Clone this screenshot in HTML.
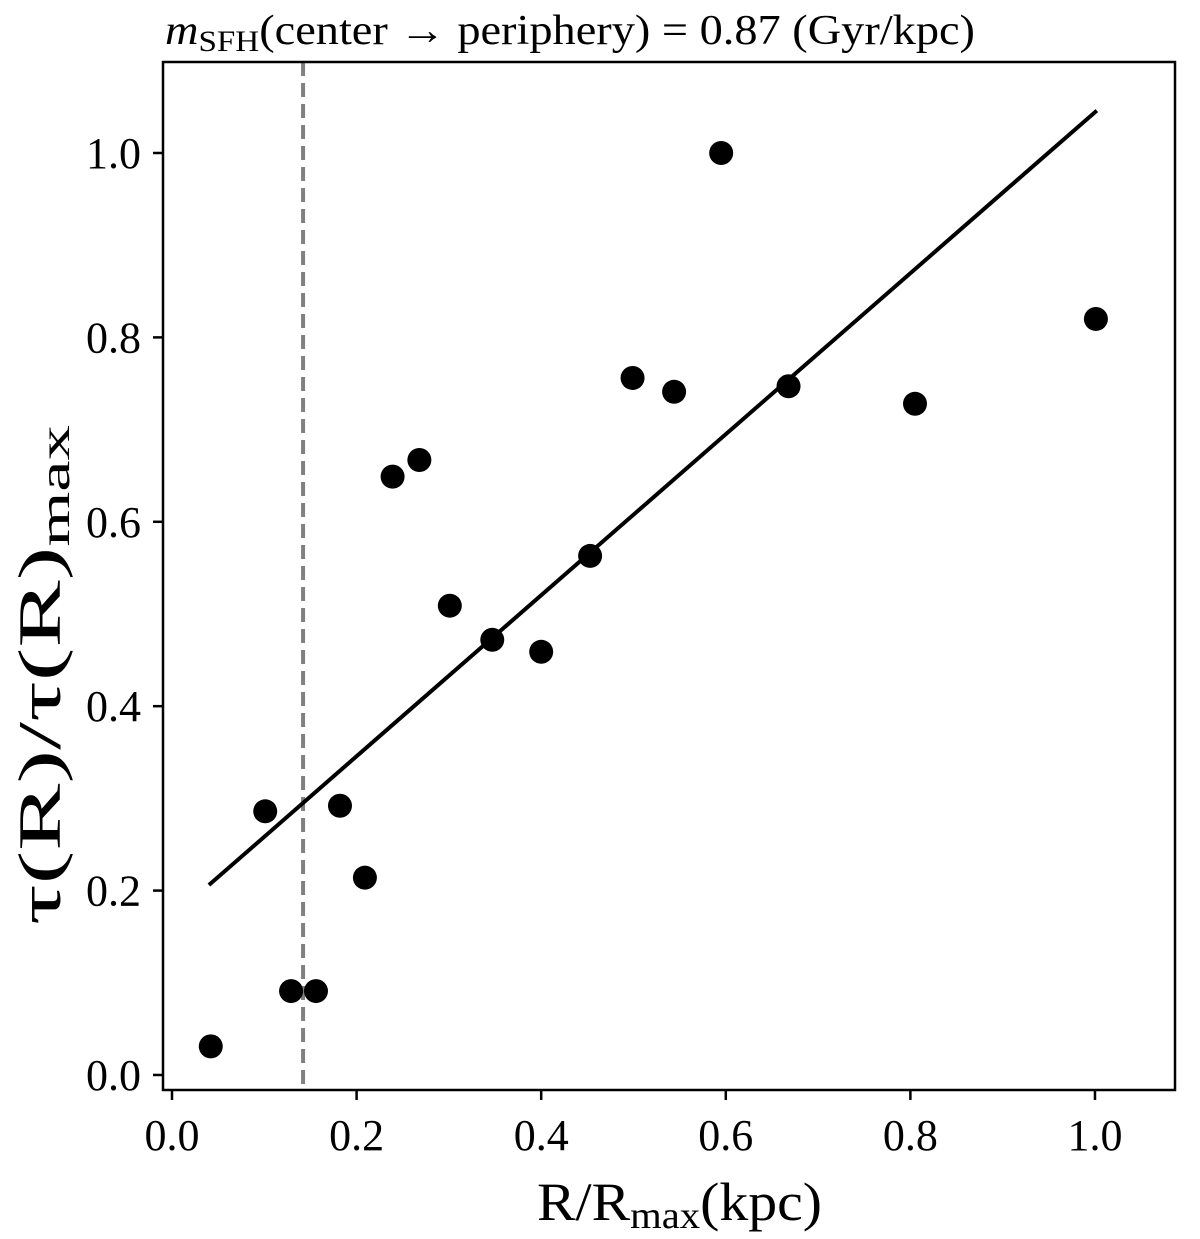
<!DOCTYPE html>
<html><head><meta charset="utf-8"><style>
html,body{margin:0;padding:0;background:#fff;}
svg{display:block;font-family:"Liberation Serif","DejaVu Serif",serif;}
</style></head><body>
<svg id="chart" width="1200" height="1239" viewBox="0 0 1200 1239">
<g id="plot"></g>
</svg>
<script>
const xVals=[0.042,0.101,0.129,0.156,0.182,0.209,0.239,0.268,0.301,0.347,0.400,0.453,0.499,0.544,0.595,0.668,0.805,1.001];
const yVals=[0.031,0.286,0.091,0.091,0.292,0.214,0.649,0.667,0.509,0.472,0.459,0.563,0.756,0.741,1.0,0.747,0.728,0.820];
const xTicks=[0.0,0.2,0.4,0.6,0.8,1.0];
const yTicks=[0.0,0.2,0.4,0.6,0.8,1.0];
const fitX=[0.040,1.002];
const fitY=[0.206,1.046];
const vLineX=0.142;

const L=163,R=1175,T=62,B=1090;
const xmin=-0.00975,xmax=1.0867,ymin=-0.0163,ymax=1.0987;
const sx=v=>L+(v-xmin)/(xmax-xmin)*(R-L);
const sy=v=>B-(v-ymin)/(ymax-ymin)*(B-T);
const NS="http://www.w3.org/2000/svg";
const g=document.getElementById('plot');
function mk(t,a){const e=document.createElementNS(NS,t);for(const k in a)e.setAttribute(k,a[k]);g.appendChild(e);return e;}

let dl=mk('line',{x1:sx(vLineX),x2:sx(vLineX),y1:T,y2:B,stroke:'#808080','stroke-width':4,'stroke-dasharray':'14,7'});



let fl=mk('line',{x1:sx(fitX[0]),y1:sy(fitY[0]),x2:sx(fitX[1]),y2:sy(fitY[1]),stroke:'#000','stroke-width':4});



for(let i=0;i<xVals.length;i++){
  let c=mk('circle',{cx:sx(xVals[i]),cy:sy(yVals[i]),r:12,fill:'#000'});
  
  
}

let fr=mk('rect',{x:L,y:T,width:R-L,height:B-T,fill:'none',stroke:'#000','stroke-width':2.5});



xTicks.forEach(v=>{
  let t=mk('line',{x1:sx(v),x2:sx(v),y1:B,y2:B+10,stroke:'#000','stroke-width':2.5});
  
  
  let lb=mk('text',{x:sx(v),y:1150,'text-anchor':'middle','font-size':44});
  lb.textContent=v.toFixed(1);
  
  
});
yTicks.forEach(v=>{
  let t=mk('line',{x1:L-10,x2:L,y1:sy(v),y2:sy(v),stroke:'#000','stroke-width':2.5});
  
  
  let lb=mk('text',{x:L-22,y:sy(v)+15,'text-anchor':'end','font-size':44});
  lb.textContent=v.toFixed(1);
  
  
});

let xt=mk('text',{x:537,y:1220,'font-size':54,textLength:285,lengthAdjust:'spacingAndGlyphs'});
xt.innerHTML='R/R<tspan font-size="38" dy="8">max</tspan><tspan dy="-8">(kpc)</tspan>';



let yt=mk('text',{x:0,y:0,'font-size':60,textLength:500,lengthAdjust:'spacingAndGlyphs',transform:'translate(60,925) rotate(-90)'});
yt.innerHTML='τ(R)/τ(R)<tspan font-size="42" dy="9">max</tspan>';



let tt=mk('text',{x:165,y:44,'font-size':42,textLength:810,lengthAdjust:'spacingAndGlyphs'});
tt.innerHTML='<tspan font-style="italic">m</tspan><tspan font-size="30" dy="7">SFH</tspan><tspan dy="-7">(center → periphery) = 0.87 (Gyr/kpc)</tspan>';


</script>
</body></html>
